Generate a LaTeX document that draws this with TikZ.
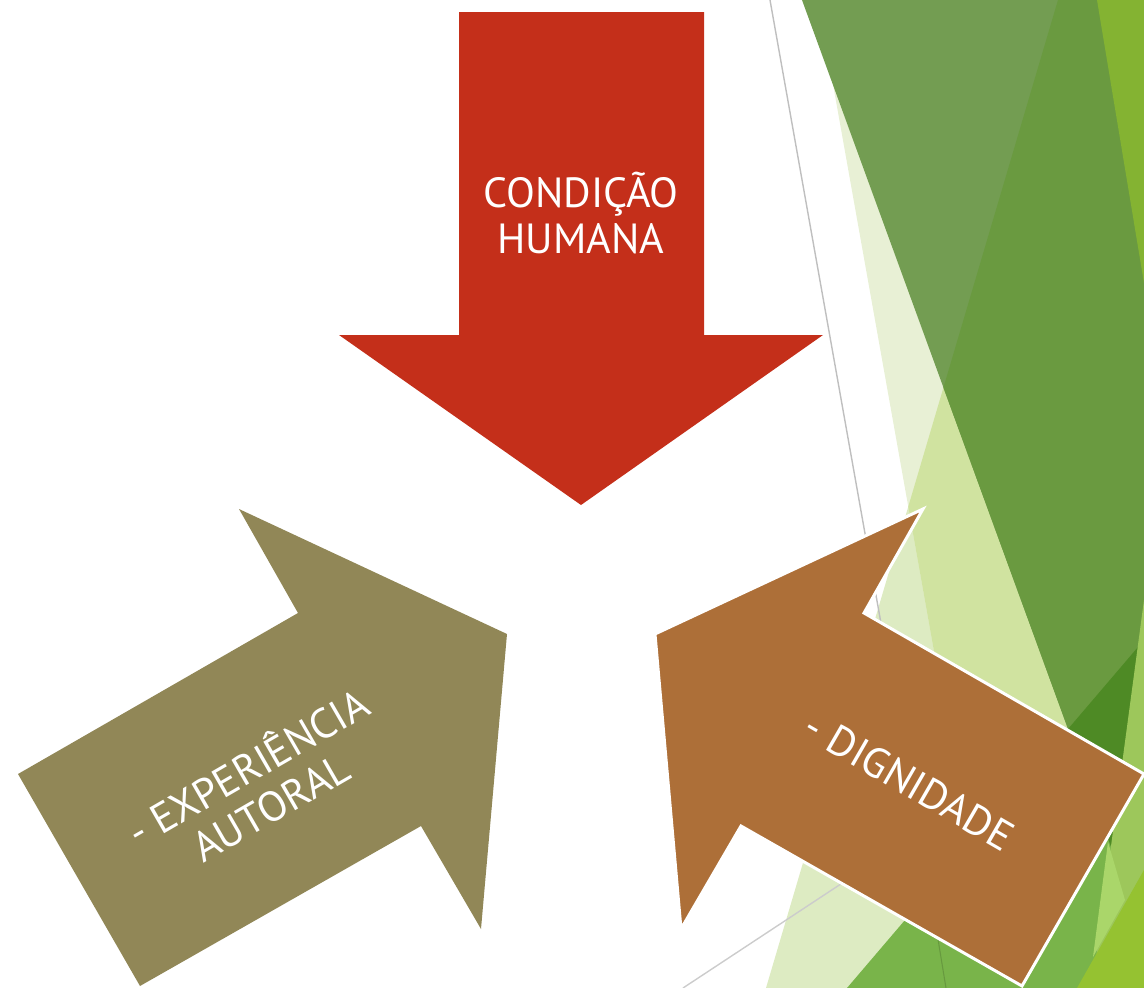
\documentclass[tikz,border=0pt]{standalone}
\usepackage{fontspec}
\setmainfont{PT Sans}
\usepackage{tikz}

\definecolor{arrowred}{HTML}{C42F1A}
\definecolor{arrowolive}{HTML}{918757}
\definecolor{arrowbrown}{HTML}{AD6F38}
\definecolor{palex}{HTML}{E8F0D5}
\definecolor{paley}{HTML}{DDEBC2}
\definecolor{limelight}{HTML}{D0E3A0}
\definecolor{greenfade}{HTML}{739D52}
\definecolor{greenmid}{HTML}{6A9A40}
\definecolor{greenlow}{HTML}{79B44A}
\definecolor{greendeep}{HTML}{4E8A25}
\definecolor{greenstrip}{HTML}{9DC75B}
\definecolor{greenglow}{HTML}{AAD66A}
\definecolor{limecorner}{HTML}{95C231}
\definecolor{limetop}{HTML}{84B332}
\definecolor{rulegray}{HTML}{BFBFBF}

\begin{document}
\begin{tikzpicture}[x=0.02cm, y=-0.02cm,
    arrowshape/.style={draw=white, line width=1.7pt, line join=miter},
    arrowtext/.style={text=white, font=\fontsize{24}{26}\selectfont, align=center}]
    \useasboundingbox (0,0) rectangle (1144,988);

    % Green facets
    \begin{scope}
        \clip (0,0) rectangle (1144,988);
        \fill[paley] (1058,0) -- (1144,0) -- (1144,988) -- (766,988) -- cycle;
        \fill[palex] (818,0) -- (1144,0) -- (1144,988) -- (994,988) -- cycle;
        \begin{scope}
            \clip (818,0) -- (1144,0) -- (1144,988) -- (994,988) -- cycle;
            \fill[limelight] (1058,0) -- (1144,0) -- (1144,988) -- (766,988) -- cycle;
        \end{scope}
        \fill[greenfade] (802,0) -- (1144,0) -- (1144,937) -- cycle;
        \fill[greenlow] (1144,640) -- (1144,988) -- (847,988) -- cycle;
        \begin{scope}
            \clip (802,0) -- (1144,0) -- (1144,937) -- cycle;
            \fill[greenmid] (1058,0) -- (1144,0) -- (1144,988) -- (766,988) -- cycle;
            \fill[greendeep] (1144,640) -- (1144,988) -- (847,988) -- cycle;
        \end{scope}
        \fill[greenstrip] (1144,600) -- (1144,988) -- (1092,988) -- cycle;
        \fill[greenglow] (1108,842) -- (1125,900) -- (1093,957) -- cycle;
        \fill[limecorner] (1144,870) -- (1144,988) -- (1077,988) -- cycle;
        \fill[limetop] (1097,0) -- (1144,0) -- (1144,283) -- cycle;

        % Thin rules
        \draw[rulegray, line width=0.8pt] (770,0) -- (900,730);
        \draw[rulegray!80, line width=0.8pt] (683,988) -- (900,845);
        \draw[greenlow!85!black, line width=0.6pt] (925,860) -- (946,988);
    \end{scope}

    % Red arrow
    \fill[arrowred] (459,12) -- (704,12) -- (704,335) -- (823,335)
        -- (581,505) -- (339,335) -- (459,335) -- cycle;
    \node[arrowtext] (condicao) at (581,213) {CONDIÇÃO\\HUMANA};

    % Olive arrow
    \fill[arrowolive] (18,774) -- (298,613) -- (239,509) -- (507,634)
        -- (481,929) -- (421,826) -- (140,986) -- cycle;
    \node[arrowtext, rotate=30] (experiencia) at (258,785) {- EXPERIÊNCIA\\AUTORAL};

    % Brown arrow
    \draw[arrowshape, fill=arrowbrown] (1144,774) -- (864,613) -- (923,509) -- (655,634)
        -- (681,929) -- (741,826) -- (1022,986) -- cycle;
    \node[arrowtext, rotate=-30] (dignidade) at (909,781) {- DIGNIDADE};
\end{tikzpicture}
\end{document}
